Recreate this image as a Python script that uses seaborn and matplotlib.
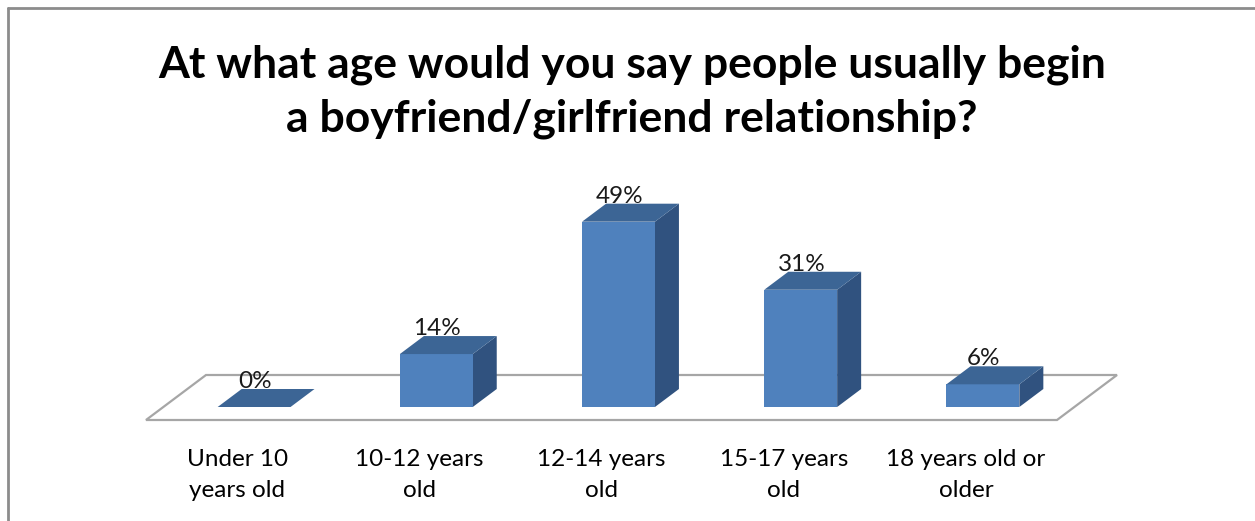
import matplotlib
matplotlib.use("Agg")
import matplotlib.pyplot as plt
from matplotlib.patches import Polygon
from matplotlib.lines import Line2D
from matplotlib.transforms import ScaledTranslation
import seaborn as sns

# Survey answers
categories = ["Under 10\nyears old", "10-12 years\nold", "12-14 years\nold",
              "15-17 years\nold", "18 years old or\nolder"]
values = [0, 14, 49, 31, 6]
title = "At what age would you say people usually begin\na boyfriend/girlfriend relationship?"

FRONT = "#4F81BD"
TOP = "#3C6595"
SIDE = "#30527F"
FLOOR = "#A6A6A6"
FONT = "Lato"

sns.set_theme(style="white")
plt.rcParams["font.family"] = [FONT, "DejaVu Sans"]

W, H = 1255, 521
fig = plt.figure(figsize=(W / 100, H / 100), dpi=100)
fig.patch.set_facecolor("white")

ax = fig.add_axes([163 / W, (H - 407) / H, 911 / W, 208 / H])
sns.barplot(x=categories, y=values, color=FRONT, width=0.4, saturation=1,
            linewidth=0, edgecolor="none", ax=ax, zorder=3)
ax.set_xlim(-0.5, 4.5)
ax.set_ylim(0, 55)
ax.set_facecolor("none")
for s in ax.spines.values():
    s.set_visible(False)
ax.set_yticks([])
ax.set_ylabel("")
ax.set_xlabel("")
ax.tick_params(axis="x", length=0, pad=30, labelsize=17.5)
shift = ScaledTranslation(-17 / 100, 0, fig.dpi_scale_trans)
for lab in ax.get_xticklabels():
    lab.set_transform(lab.get_transform() + shift)
    lab.set_linespacing(1.6)
    lab.set_color("#000000")

fig.canvas.draw()
to_px = ax.transData.transform
to_data = ax.transData.inverted().transform

# Floor plate under the bars
x0, x1 = ax.get_xlim()
fl, fr = to_px((x0, 0)), to_px((x1, 0))
floor_px = [(fl[0] - 17, fl[1] - 13), (fr[0] - 17, fr[1] - 13),
            (fr[0] + 43, fr[1] + 32), (fl[0] + 43, fl[1] + 32)]
ax.add_patch(Polygon(to_data(floor_px), closed=True, facecolor="white",
                     edgecolor=FLOOR, lw=1.6, zorder=1, clip_on=False))

# Top and side faces give each bar its depth
DX, DY = 24, 18
for bar, v in zip(ax.patches[:len(values)], values):
    bx, bw, bh = bar.get_x(), bar.get_width(), bar.get_height()
    br = to_px((bx + bw, 0))
    tl = to_px((bx, bh)); tr = to_px((bx + bw, bh))
    top = [tl, tr, (tr[0] + DX, tr[1] + DY), (tl[0] + DX, tl[1] + DY)]
    side = [br, tr, (tr[0] + DX, tr[1] + DY), (br[0] + DX, br[1] + DY)]
    ax.add_patch(Polygon(to_data(side), closed=True, facecolor=SIDE,
                         edgecolor="none", zorder=2, clip_on=False))
    ax.add_patch(Polygon(to_data(top), closed=True, facecolor=TOP,
                         edgecolor="none", zorder=4, clip_on=False))
    ax.annotate(f"{v}%", xy=(bx + bw / 2, bh), xytext=(1, 19),
                textcoords="offset pixels", ha="center", va="baseline",
                fontsize=17.5, color="#1a1a1a", zorder=5, annotation_clip=False)

fig.text(632 / W, 1 - 132 / H, title, ha="center", va="baseline",
         fontsize=32, fontweight="bold", color="#000000", linespacing=1.42)

# Chart area border
fig.add_artist(Line2D([8 / W, 8 / W], [0, 1 - 8 / H], color="#8C8C8C", lw=2,
                      transform=fig.transFigure))
fig.add_artist(Line2D([8 / W, 1], [1 - 8 / H, 1 - 8 / H], color="#8C8C8C", lw=2,
                      transform=fig.transFigure))

fig.savefig("out.png", dpi=100, facecolor="white")
